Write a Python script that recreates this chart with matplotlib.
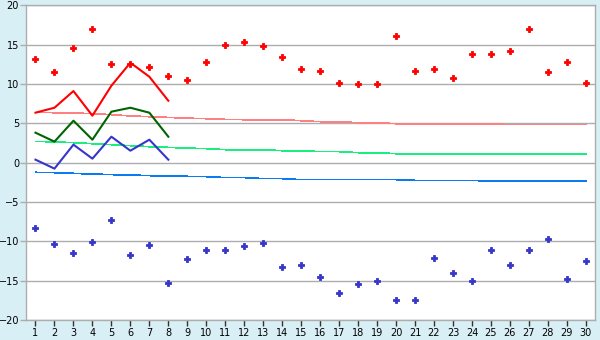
import numpy as np
import matplotlib
matplotlib.use("Agg")
import matplotlib.pyplot as plt

# Data

days = list(range(1, 31))

upper_pts = [13.15, 11.55, 14.6, 17.0, 12.57, 12.6, 12.19, 11.04, 10.54, 12.82,
             14.98, 15.36, 14.86, 13.46, 11.93, 11.68, 10.16, 10.03, 10.03, 16.13,
             11.68, 11.93, 10.79, 13.84, 13.84, 14.22, 17.0, 11.55, 12.82, 10.16]

lower_pts = [-8.25, -10.29, -11.43, -10.03, -7.24, -11.68, -10.41, -15.24, -12.19, -11.05,
             -11.05, -10.54, -10.16, -13.21, -12.95, -14.48, -16.63, -15.37, -14.98, -17.4,
             -17.52, -12.06, -13.97, -14.98, -11.05, -12.95, -11.05, -9.65, -14.73, -12.44]

line_days = list(range(1, 9))
red_line = [6.35, 6.98, 9.1, 5.97, 9.78, 12.7, 10.92, 7.87]
green_line = [3.81, 2.67, 5.33, 2.92, 6.48, 6.98, 6.35, 3.3]
blue_line = [0.38, -0.76, 2.29, 0.51, 3.3, 1.52, 2.92, 0.38]

red_trend = [6.39, 6.35, 6.32, 6.22, 6.10, 5.94, 5.84, 5.75, 5.65, 5.59,
             5.50, 5.46, 5.46, 5.46, 5.33, 5.21, 5.21, 5.08, 5.08, 4.95,
             4.95, 4.95, 4.95, 4.95, 4.95, 4.83, 4.83, 4.83, 4.83, 4.83]
green_trend = [2.70, 2.64, 2.54, 2.41, 2.29, 2.16, 2.03, 1.94, 1.85, 1.78,
               1.65, 1.65, 1.65, 1.52, 1.52, 1.40, 1.40, 1.27, 1.27, 1.14,
               1.14, 1.14, 1.14, 1.14, 1.14, 1.14, 1.14, 1.14, 1.14, 1.14]
blue_trend = [-1.23, -1.27, -1.36, -1.45, -1.52, -1.57, -1.65, -1.70, -1.74, -1.78,
              -1.90, -1.90, -2.03, -2.03, -2.16, -2.16, -2.16, -2.16, -2.16, -2.16,
              -2.25, -2.25, -2.25, -2.25, -2.37, -2.37, -2.37, -2.37, -2.37, -2.37]

# Figure

bg = "#d9eff6"
grid_c = "#adadad"

fig = plt.figure(figsize=(6, 3.4), dpi=100, facecolor=bg)
ax = fig.add_axes([26 / 600, 1 - 320 / 340, (595.3 - 26) / 600, (320 - 5.3) / 340])
ax.set_facecolor("white")

ax.set_xlim(0.5, 30.5)
ax.set_ylim(-20, 20)
ax.set_yticks(np.arange(-20, 21, 5))
ax.set_xticks(days)
ax.set_xticklabels([str(d) for d in days])

ax.grid(axis="y", color=grid_c, lw=1, zorder=0)
for s in ax.spines.values():
    s.set_color(grid_c)
    s.set_linewidth(1)

ax.tick_params(axis="both", colors="#333333", labelcolor="black", labelsize=7,
               length=4, width=1, direction="out")
ax.tick_params(axis="x", color="#333333", pad=2)
ax.tick_params(axis="y", color=grid_c, pad=1)

# Trend lines (thin, pixel-stepped)
ax.plot(days, red_trend, color="#ff8080", lw=0.5, antialiased=False, zorder=2)
ax.plot(days, green_trend, color="#1aee80", lw=0.5, antialiased=False, zorder=2)
ax.plot(days, blue_trend, color="#0a7bf0", lw=0.5, antialiased=False, zorder=2)

# Short lines
ax.plot(line_days, red_line, color="#ff0000", lw=1.5, zorder=3)
ax.plot(line_days, green_line, color="#006400", lw=1.5, zorder=3)
ax.plot(line_days, blue_line, color="#3535cc", lw=1.5, zorder=3)

# Scatter points
ax.plot(days, upper_pts, ls="none", marker="P", ms=4.5, color="#ff0000",
        markeredgewidth=0.6, zorder=4)
ax.plot(days, lower_pts, ls="none", marker="P", ms=4.5, color="#3535cc",
        markeredgewidth=0.6, zorder=4)

fig.savefig("out.png", dpi=100, facecolor=bg)
